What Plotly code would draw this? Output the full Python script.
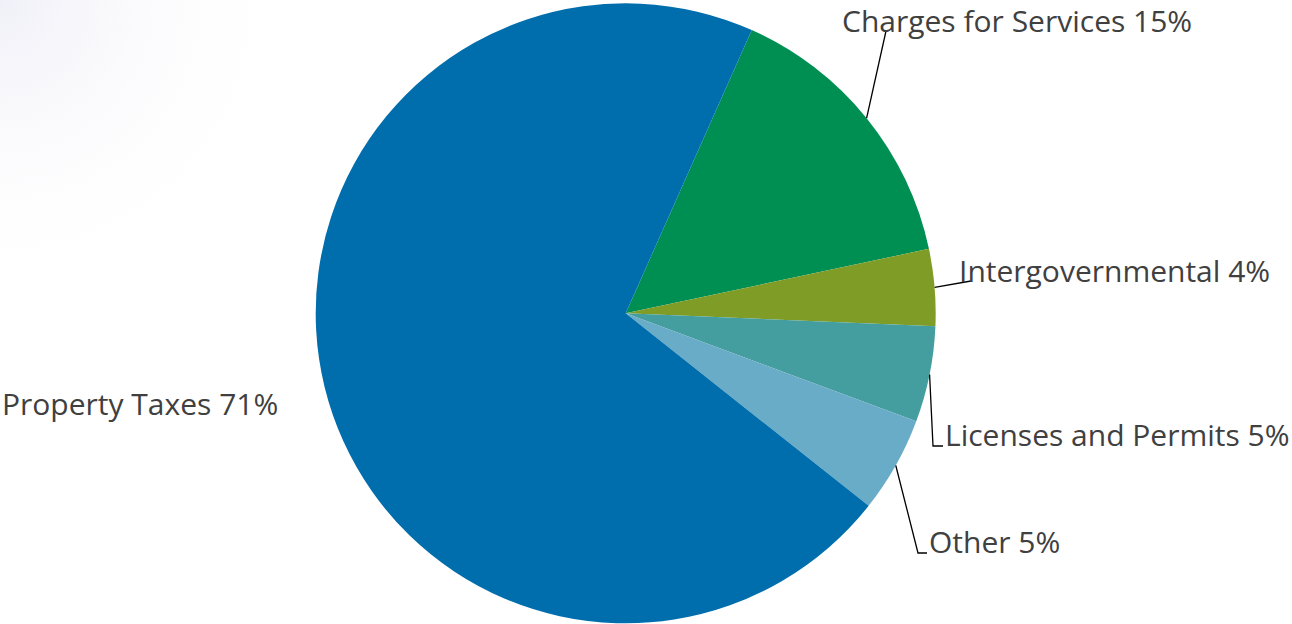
import math
import plotly.graph_objects as go

# Revenue sources (percent of total)
categories = ["Charges for Services", "Intergovernmental", "Licenses and Permits", "Other", "Property Taxes"]
values = [15, 4, 5, 5, 71]
colors = ["#008F52", "#7F9C26", "#449D9E", "#69ACC7", "#006EAD"]

W, H = 1292, 624
CX, CY, R = 625.7, 313.3, 310.0   # pie centre and radius in pixels
ROTATION = 24                      # first slice starts 24 deg clockwise from 12 o'clock

FONT = dict(family="'Open Sans', Lato, sans-serif", size=30, color="#404040")

# label placement (pixels): text left x, text middle y, leader elbow points
label_layout = {
    "Charges for Services": dict(x=840, y=20, leader=[(886, 31)]),
    "Intergovernmental": dict(x=957, y=270, leader=[(971, 281)]),
    "Licenses and Permits": dict(x=943, y=434, leader=[(933, 446), (943, 446)]),
    "Other": dict(x=927, y=541, leader=[(918, 553), (927, 553)]),
    "Property Taxes": dict(x=0, y=403, leader=None),
}


def px(x):
    return x / W


def py(y):
    return 1 - y / H


fig = go.Figure(go.Pie(
    labels=categories,
    values=values,
    marker=dict(colors=colors, line=dict(width=0)),
    sort=False,
    direction="clockwise",
    rotation=ROTATION,
    textinfo="none",
    hoverinfo="label+percent",
    showlegend=False,
    domain=dict(x=[px(CX - R), px(CX + R)], y=[py(CY + R), py(CY - R)]),
))

annotations = []
shapes = []
total = sum(values)
cum = 0
for cat, val in zip(categories, values):
    mid = ROTATION + (cum + val / 2) / total * 360
    cum += val
    spec = label_layout[cat]
    annotations.append(dict(
        x=px(spec["x"]), y=py(spec["y"]), xref="paper", yref="paper",
        xanchor="left", yanchor="middle", showarrow=False,
        text=f"{cat} {val}%", font=FONT,
    ))
    if spec["leader"]:
        a = math.radians(mid)
        sx, sy = CX + R * math.sin(a), CY - R * math.cos(a)
        pts = [(sx, sy)] + spec["leader"]
        path = "M " + " L ".join(f"{px(x):.5f},{py(y):.5f}" for x, y in pts)
        shapes.append(dict(type="path", path=path, xref="paper", yref="paper",
                           line=dict(color="#000000", width=1.3)))

# soft grey wash in the top-left corner
corner_svg = (
    "data:image/svg+xml;utf8,"
    "<svg xmlns='http://www.w3.org/2000/svg' width='300' height='300'>"
    "<defs><radialGradient id='g' cx='0' cy='0' r='1'>"
    "<stop offset='0' stop-color='rgb(240,240,248)' stop-opacity='1'/>"
    "<stop offset='1' stop-color='rgb(255,255,255)' stop-opacity='0'/>"
    "</radialGradient></defs>"
    "<rect width='300' height='300' fill='url(%23g)'/></svg>"
)

fig.update_layout(
    width=W, height=H,
    margin=dict(l=0, r=0, t=0, b=0),
    paper_bgcolor="white",
    plot_bgcolor="white",
    annotations=annotations,
    shapes=shapes,
    images=[dict(source=corner_svg, xref="paper", yref="paper",
                 x=0, y=1, sizex=px(300), sizey=300 / H,
                 xanchor="left", yanchor="top", sizing="stretch", layer="below")],
)

fig.write_html("out.html")
